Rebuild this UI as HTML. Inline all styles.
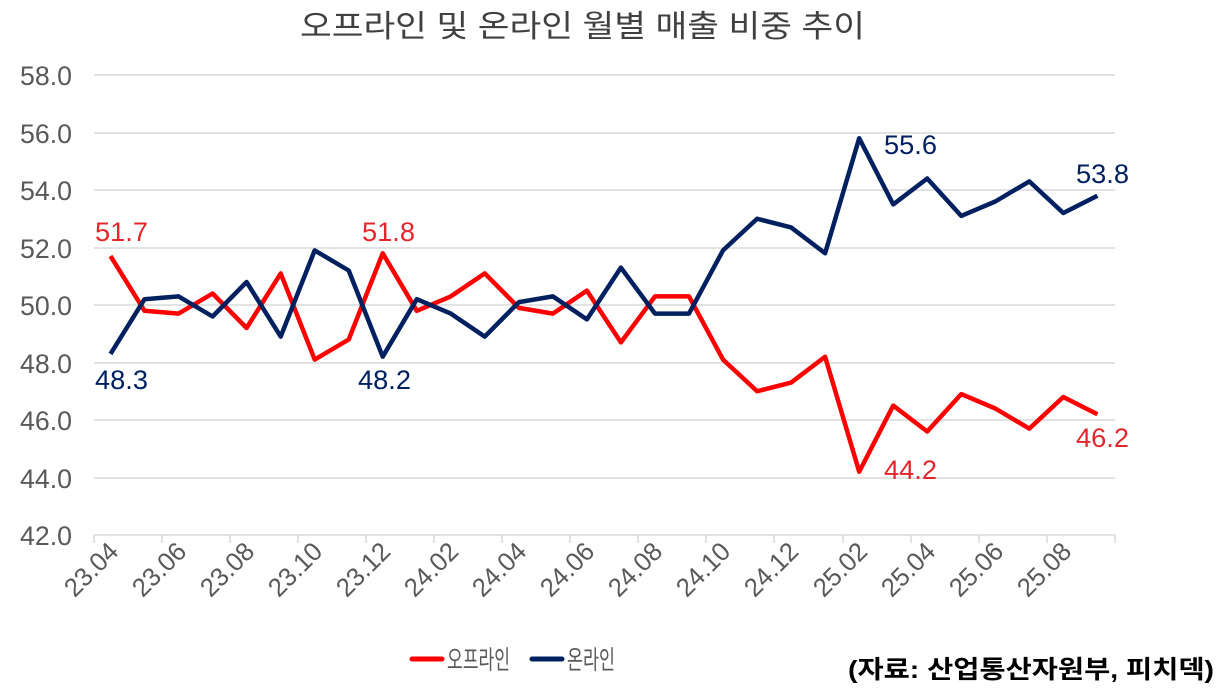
<!DOCTYPE html>
<html><head><meta charset="utf-8"><style>
body{margin:0;background:#fff}
svg{display:block;font-family:"Liberation Sans","Noto Sans CJK KR",sans-serif}
</style></head><body>
<svg width="1222" height="698" viewBox="0 0 1222 698">
<text x="300" y="37" font-size="31" fill="#404040" textLength="565" lengthAdjust="spacingAndGlyphs">오프라인 및 온라인 월별 매출 비중 추이</text>
<g stroke="#d9d9d9" stroke-width="1.5">
<line x1="94" x2="1115" y1="75" y2="75"/><line x1="94" x2="1115" y1="133" y2="133"/>
<line x1="94" x2="1115" y1="190" y2="190"/><line x1="94" x2="1115" y1="248" y2="248"/>
<line x1="94" x2="1115" y1="305" y2="305"/><line x1="94" x2="1115" y1="363" y2="363"/>
<line x1="94" x2="1115" y1="420" y2="420"/><line x1="94" x2="1115" y1="478" y2="478"/>
<line x1="94" x2="1115" y1="535" y2="535"/>
<path d="M94 535v8M162 535v8M230 535v8M298 535v8M366 535v8M434 535v8M502 535v8M570 535v8M638 535v8M706 535v8M774 535v8M843 535v8M911 535v8M979 535v8M1047 535v8M1115 535v8"/>
</g>
<g font-size="27" fill="#595959">
<text x="20" y="85" textLength="52" lengthAdjust="spacingAndGlyphs">58.0</text>
<text x="20" y="143" textLength="52" lengthAdjust="spacingAndGlyphs">56.0</text>
<text x="20" y="200" textLength="52" lengthAdjust="spacingAndGlyphs">54.0</text>
<text x="20" y="258" textLength="52" lengthAdjust="spacingAndGlyphs">52.0</text>
<text x="20" y="315" textLength="52" lengthAdjust="spacingAndGlyphs">50.0</text>
<text x="20" y="373" textLength="52" lengthAdjust="spacingAndGlyphs">48.0</text>
<text x="20" y="430" textLength="52" lengthAdjust="spacingAndGlyphs">46.0</text>
<text x="20" y="488" textLength="52" lengthAdjust="spacingAndGlyphs">44.0</text>
<text x="20" y="545" textLength="52" lengthAdjust="spacingAndGlyphs">42.0</text>
</g>
<g font-size="26" fill="#595959" text-anchor="end">
<text transform="translate(120,553) rotate(-45)" textLength="64" lengthAdjust="spacingAndGlyphs">23.04</text>
<text transform="translate(188,553) rotate(-45)" textLength="64" lengthAdjust="spacingAndGlyphs">23.06</text>
<text transform="translate(256,553) rotate(-45)" textLength="64" lengthAdjust="spacingAndGlyphs">23.08</text>
<text transform="translate(324,553) rotate(-45)" textLength="64" lengthAdjust="spacingAndGlyphs">23.10</text>
<text transform="translate(392,553) rotate(-45)" textLength="64" lengthAdjust="spacingAndGlyphs">23.12</text>
<text transform="translate(460,553) rotate(-45)" textLength="64" lengthAdjust="spacingAndGlyphs">24.02</text>
<text transform="translate(528,553) rotate(-45)" textLength="64" lengthAdjust="spacingAndGlyphs">24.04</text>
<text transform="translate(596,553) rotate(-45)" textLength="64" lengthAdjust="spacingAndGlyphs">24.06</text>
<text transform="translate(664,553) rotate(-45)" textLength="64" lengthAdjust="spacingAndGlyphs">24.08</text>
<text transform="translate(732,553) rotate(-45)" textLength="64" lengthAdjust="spacingAndGlyphs">24.10</text>
<text transform="translate(800,553) rotate(-45)" textLength="64" lengthAdjust="spacingAndGlyphs">24.12</text>
<text transform="translate(869,553) rotate(-45)" textLength="64" lengthAdjust="spacingAndGlyphs">25.02</text>
<text transform="translate(937,553) rotate(-45)" textLength="64" lengthAdjust="spacingAndGlyphs">25.04</text>
<text transform="translate(1005,553) rotate(-45)" textLength="64" lengthAdjust="spacingAndGlyphs">25.06</text>
<text transform="translate(1073,553) rotate(-45)" textLength="64" lengthAdjust="spacingAndGlyphs">25.08</text>
</g>
<polyline fill="none" stroke="#ff0000" stroke-width="4.5" stroke-linejoin="round" points="110.5,256.1 144.5,310.8 178.6,313.6 212.6,293.5 246.6,328 280.7,273.4 314.7,359.6 348.7,339.5 382.7,253.3 416.8,310.8 450.8,296.4 484.8,273.4 518.9,307.9 552.9,313.6 586.9,290.6 620.9,342.4 655,296.4 689,296.4 723,359.6 757.1,391.25 791.1,382.6 825.1,356.75 859.2,471.75 893.2,405.6 927.2,431.5 961.2,394.1 995.3,408.5 1029.3,428.6 1063.3,397 1097.4,414.25"/>
<polyline fill="none" stroke="#002060" stroke-width="4.5" stroke-linejoin="round" points="110.5,353.9 144.5,299.2 178.6,296.4 212.6,316.5 246.6,282 280.7,336.6 314.7,250.4 348.7,270.5 382.7,356.7 416.8,299.2 450.8,313.6 484.8,336.6 518.9,302.1 552.9,296.4 586.9,319.4 620.9,267.6 655,313.6 689,313.6 723,250.4 757.1,218.75 791.1,227.4 825.1,253.25 859.2,138.25 893.2,204.4 927.2,178.5 961.2,215.9 995.3,201.5 1029.3,181.4 1063.3,213 1097.4,195.75"/>
<g font-size="27">
<text x="95" y="241" fill="#e3262b" textLength="53" lengthAdjust="spacingAndGlyphs">51.7</text>
<text x="95" y="389" fill="#002060" textLength="53" lengthAdjust="spacingAndGlyphs">48.3</text>
<text x="362" y="241" fill="#e3262b" textLength="53" lengthAdjust="spacingAndGlyphs">51.8</text>
<text x="358" y="389" fill="#002060" textLength="53" lengthAdjust="spacingAndGlyphs">48.2</text>
<text x="884" y="154" fill="#002060" textLength="53" lengthAdjust="spacingAndGlyphs">55.6</text>
<text x="884" y="479" fill="#e3262b" textLength="53" lengthAdjust="spacingAndGlyphs">44.2</text>
<text x="1076" y="183" fill="#002060" textLength="53" lengthAdjust="spacingAndGlyphs">53.8</text>
<text x="1076" y="447" fill="#e3262b" textLength="53" lengthAdjust="spacingAndGlyphs">46.2</text>
</g>
<line x1="412" x2="442" y1="659" y2="659" stroke="#ff0000" stroke-width="5" stroke-linecap="round"/>
<text x="447" y="669" font-size="26" fill="#595959" textLength="63" lengthAdjust="spacingAndGlyphs">오프라인</text>
<line x1="532" x2="562" y1="659" y2="659" stroke="#002060" stroke-width="5" stroke-linecap="round"/>
<text x="567" y="669" font-size="26" fill="#595959" textLength="48" lengthAdjust="spacingAndGlyphs">온라인</text>
<text x="848" y="678" font-size="25" font-weight="bold" fill="#000" textLength="366" lengthAdjust="spacingAndGlyphs">(자료: 산업통산자원부, 피치덱)</text>
</svg>
</body></html>
